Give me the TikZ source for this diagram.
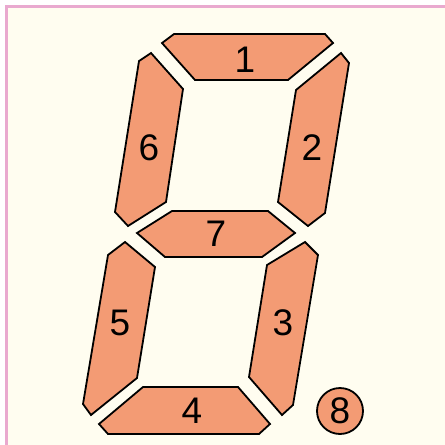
\documentclass[tikz,border=0pt]{standalone}
\usepackage{fontspec}
\setmainfont{Liberation Sans}
\usepackage{xcolor}
\usetikzlibrary{positioning, calc}
\definecolor{segsalmon}{HTML}{F39B74}
\definecolor{ivorybg}{HTML}{FFFDF0}
\definecolor{framepink}{HTML}{E9A9CF}

\tikzset{
  segment/.style={fill=segsalmon, draw=black, line width=1.8pt, line join=miter},
  seglabel/.style={font=\fontsize{37}{40}\selectfont, inner sep=0pt}
}

\begin{document}
\begin{tikzpicture}[x=1pt, y=-1pt]
  \useasboundingbox (0,0) rectangle (445,445);
  \fill[white] (0,0) rectangle (445,445);
  \fill[ivorybg] (6,6) rectangle (450,450);
  \draw[framepink, line width=3pt] (6,450) -- (6,6) -- (450,6);

  % segments, clockwise from the top
  \draw[segment] (174,34) -- (325,34) -- (333,43) -- (288,80) -- (195,80) -- (162,43) -- cycle;
  \draw[segment] (341,53) -- (349,63) -- (325,213) -- (308,226) -- (278,202) -- (296,90) -- cycle;
  \draw[segment] (305,242) -- (318,255) -- (293,405) -- (282,415) -- (249,377) -- (267,265) -- cycle;
  \draw[segment] (143,387) -- (238,387) -- (270,424) -- (259,434) -- (108,434) -- (99,424) -- cycle;
  \draw[segment] (125,242) -- (155,267) -- (137,378) -- (91,415) -- (83,404) -- (108,255) -- cycle;
  \draw[segment] (151,53) -- (183,89) -- (166,202) -- (128,226) -- (115,212) -- (139,61) -- cycle;
  \draw[segment] (172,211) -- (268,211) -- (295,233) -- (262,257) -- (165,257) -- (137,233) -- cycle;

  % labels
  \node[seglabel] (seg1) at (245,60) {1};
  \node[seglabel] (seg2) at (312,148) {2};
  \node[seglabel] (seg3) at (283,323) {3};
  \node[seglabel] (seg4) at (192,411) {4};
  \node[seglabel] (seg5) at (120,323) {5};
  \node[seglabel] (seg6) at (149,148) {6};
  \node[seglabel] (seg7) at (216,234) {7};
  \node[segment, circle, minimum size=46pt, inner sep=0pt,
        font=\fontsize{37}{40}\selectfont] (dot) at (340,411) {8};
\end{tikzpicture}
\end{document}
